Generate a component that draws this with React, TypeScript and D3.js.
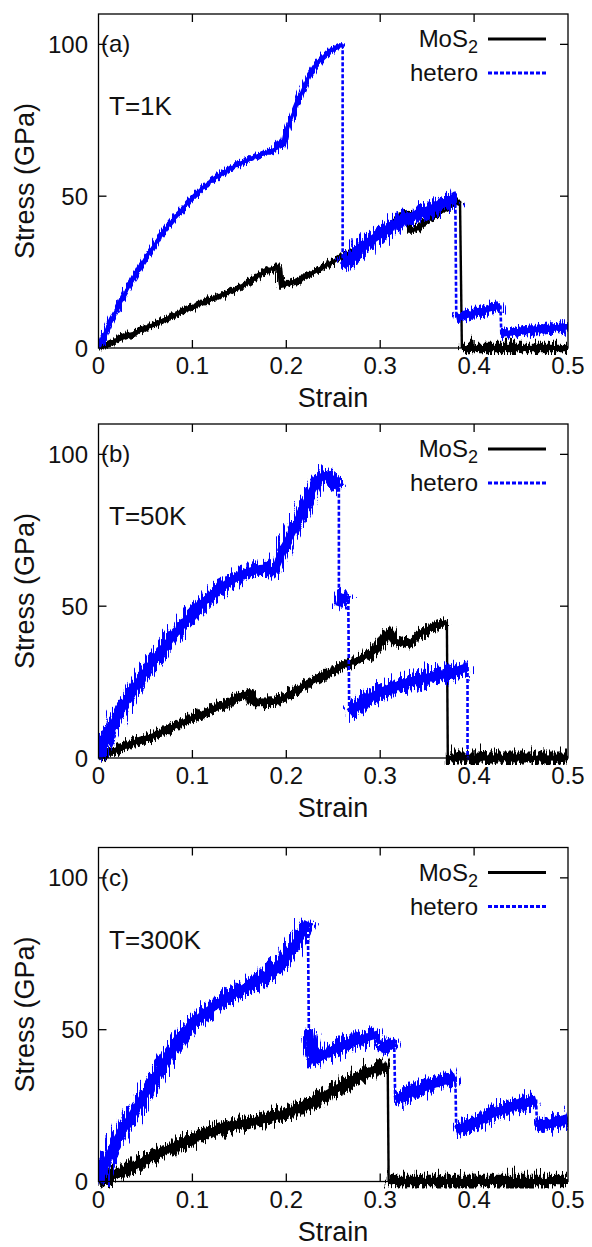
import React from "react";
import * as d3 from "d3";

const strainTicks = [0, 0.1, 0.2, 0.3, 0.4, 0.5];
const stressTicks = [0, 50, 100];
const panelTags = ["(a)", "(b)", "(c)"];
const tempLabels = ["T=1K", "T=50K", "T=300K"];
const xLabel = "Strain";
const yLabel = "Stress (GPa)";

// noise = half-width (GPa) of the fluctuation band
type Seg = { noise: number; pts: [number, number][] };

// ---- Panel (a) T=1K ----
const mos2A: Seg[] = [
  { noise: 1.3, pts: [[0, 0], [0.05, 6.5], [0.1, 13.5], [0.15, 20], [0.192, 26.5], [0.194, 20.5], [0.2, 21], [0.25, 28.5], [0.3, 37.5], [0.329, 44.5], [0.332, 38.5], [0.35, 42], [0.385, 48.5]] },
  { noise: 2.5, pts: [[0.387, 0], [0.5, 0]] },
];
const heteroA: Seg[] = [
  { noise: 1.2, pts: [[0, 0], [0.01, 7], [0.02, 13], [0.03, 19], [0.04, 24.5], [0.05, 29.5], [0.06, 34], [0.07, 38.5], [0.08, 42.5], [0.09, 46], [0.1, 49.5], [0.12, 55], [0.14, 59], [0.16, 62], [0.175, 64], [0.188, 65.5], [0.193, 67.5], [0.196, 66.5], [0.2, 71], [0.211, 80], [0.225, 90], [0.239, 95.8], [0.253, 99], [0.26, 100]] },
  { noise: 3.0, pts: [[0.26, 27], [0.27, 30], [0.28, 33], [0.3, 37.5], [0.32, 41.5], [0.34, 44], [0.36, 46.5], [0.38, 49.5]] },
  { noise: 2.0, pts: [[0.381, 10], [0.4, 11.5], [0.428, 14]] },
  { noise: 2.0, pts: [[0.429, 4.5], [0.45, 5.5], [0.5, 7]] },
];

// ---- Panel (b) T=50K ----
const mos2B: Seg[] = [
  { noise: 1.8, pts: [[0, 0], [0.036, 4.9], [0.056, 7.1], [0.096, 12.6], [0.137, 18], [0.161, 21.3], [0.163, 18.5], [0.185, 18.6], [0.217, 23.5], [0.258, 30], [0.298, 36.6], [0.312, 41.5], [0.316, 38.5], [0.33, 37.7], [0.338, 39.9], [0.371, 44.8]] },
  { noise: 3.0, pts: [[0.372, 0], [0.5, 0]] },
];
const heteroB: Seg[] = [
  { noise: 2.7, pts: [[0, 0], [0.015, 10.4], [0.036, 22], [0.056, 31], [0.076, 38.8], [0.096, 46], [0.116, 52.5], [0.137, 57.5], [0.157, 61], [0.177, 62.5], [0.185, 61.5], [0.197, 69], [0.209, 76], [0.217, 81], [0.229, 89], [0.241, 93], [0.25, 91.5], [0.256, 89]] },
  { noise: 2.5, pts: [[0.256, 50], [0.26, 53], [0.266, 52]] },
  { noise: 3.0, pts: [[0.267, 15], [0.28, 18], [0.298, 21.3], [0.32, 24], [0.338, 25.7], [0.359, 27], [0.38, 28.5], [0.393, 30]] },
  { noise: 0.3, pts: [[0.393, 0], [0.394, 0]] },
];

// ---- Panel (c) T=300K ----
const mos2C: Seg[] = [
  { noise: 2.7, pts: [[0, 0], [0.036, 4.8], [0.056, 8], [0.096, 13.5], [0.137, 18], [0.177, 20.5], [0.217, 24.6], [0.258, 31.3], [0.298, 37.3], [0.308, 38]] },
  { noise: 3.2, pts: [[0.309, 0], [0.5, 0]] },
];
const heteroC: Seg[] = [
  { noise: 2.9, pts: [[0, 0], [0.015, 11], [0.036, 22], [0.056, 32], [0.076, 42], [0.096, 50.5], [0.116, 56], [0.137, 60.5], [0.157, 64], [0.177, 67.5], [0.197, 73], [0.217, 82], [0.223, 85.5]] },
  { noise: 2.9, pts: [[0.224, 50], [0.23, 40], [0.237, 41.2], [0.258, 44.5], [0.278, 46.7], [0.298, 48.5]] },
  { noise: 2.9, pts: [[0.3, 43], [0.31, 45.5], [0.315, 44]] },
  { noise: 2.9, pts: [[0.316, 27], [0.338, 30], [0.359, 32.3], [0.38, 34.5]] },
  { noise: 2.9, pts: [[0.381, 17], [0.399, 19], [0.419, 22.3], [0.44, 24.5], [0.466, 27]] },
  { noise: 2.9, pts: [[0.467, 18], [0.485, 19.5], [0.5, 21]] },
];

const mos2Panels = [mos2A, mos2B, mos2C];
const heteroPanels = [heteroA, heteroB, heteroC];

const BLUE = "#0000ff";
const FONT = "'Liberation Sans', Arial, Helvetica, sans-serif";
const TXT = "#111";

const W = 592;
const H = 1247;
const LEFT = 98.5;
const RIGHT = 568;
const PH = 334;
const tops = [14, 424, 847.5];
const pxPerGPa = PH / 110;

const bandPx = (s: Seg) => 2 * s.noise * pxPerGPa;
const jagScale = (s: Seg) => Math.max(4, Math.round(bandPx(s) * 1.3));

const allScales = Array.from(
  new Set([...mos2Panels, ...heteroPanels].flat().map((s) => jagScale(s)))
);

function Panel({ idx }: { idx: number }) {
  const top = tops[idx];
  const bottom = top + PH;
  const x = d3.scaleLinear().domain([0, 0.5]).range([LEFT, RIGHT]);
  const y = d3.scaleLinear().domain([0, 110]).range([bottom, top]);
  const line = d3
    .line<[number, number]>()
    .x((d) => x(d[0]))
    .y((d) => y(d[1]))
    .curve(d3.curveMonotoneX);
  const straight = d3
    .line<[number, number]>()
    .x((d) => x(d[0]))
    .y((d) => y(d[1]));

  const drawSeries = (segs: Seg[], color: string, dashed: boolean, key: string) => {
    const els: React.ReactNode[] = [];
    segs.forEach((s, i) => {
      if (i > 0) {
        const prev = segs[i - 1].pts[segs[i - 1].pts.length - 1];
        const cur = s.pts[0];
        els.push(
          <path
            key={`${key}-c${i}`}
            d={straight([prev, cur]) || ""}
            stroke={color}
            strokeWidth={dashed ? 2.6 : 2.4}
            strokeDasharray={dashed ? "4 2" : undefined}
            fill="none"
          />
        );
      }
      const band = bandPx(s);
      const isFlat = s.pts.every((p) => p[1] === 0);
      const d = line(s.pts) || "";
      els.push(
        <path
          key={`${key}-j${i}`}
          d={d}
          stroke={color}
          strokeWidth={Math.max(2.5, band * (isFlat ? 0.7 : 0.8))}
          strokeLinejoin="round"
          fill="none"
          filter={`url(#jag${jagScale(s)})`}
        />
      );
      els.push(
        <path
          key={`${key}-s${i}`}
          d={d}
          stroke={color}
          strokeWidth={Math.max(2.8, band * (isFlat ? 0.25 : 0.45))}
          strokeLinejoin="round"
          fill="none"
        />
      );
    });
    return els;
  };

  const fs = 24;
  const clipId = `clip${idx}`;
  return (
    <g>
      <clipPath id={clipId}>
        <rect x={LEFT} y={top - 2} width={RIGHT - LEFT} height={PH + 9} />
      </clipPath>
      <g clipPath={`url(#${clipId})`}>
        {drawSeries(mos2Panels[idx], "#000", false, `m${idx}`)}
        {drawSeries(heteroPanels[idx], BLUE, true, `h${idx}`)}
      </g>
      <rect x={LEFT} y={top} width={RIGHT - LEFT} height={PH} fill="none" stroke="#000" strokeWidth={1.3} />
      {strainTicks.map((t) => (
        <g key={`xt${t}`}>
          {t > 0 && t < 0.5 && (
            <>
              <line x1={x(t)} x2={x(t)} y1={bottom} y2={bottom - 8} stroke="#000" strokeWidth={1.3} />
              <line x1={x(t)} x2={x(t)} y1={top} y2={top + 8} stroke="#000" strokeWidth={1.3} />
            </>
          )}
          <text x={x(t)} y={bottom + 26} textAnchor="middle" fontSize={fs} fontFamily={FONT} fill={TXT}>
            {String(t)}
          </text>
        </g>
      ))}
      {stressTicks.map((t) => (
        <g key={`yt${t}`}>
          {t > 0 && (
            <>
              <line x1={LEFT} x2={LEFT + 8} y1={y(t)} y2={y(t)} stroke="#000" strokeWidth={1.3} />
              <line x1={RIGHT} x2={RIGHT - 8} y1={y(t)} y2={y(t)} stroke="#000" strokeWidth={1.3} />
            </>
          )}
          <text x={88} y={y(t) + 8.5} textAnchor="end" fontSize={fs} fontFamily={FONT} fill={TXT}>
            {String(t)}
          </text>
        </g>
      ))}
      <text x={W / 2 + 37} y={bottom + 59} textAnchor="middle" fontSize={27} fontFamily={FONT} fill={TXT}>
        {xLabel}
      </text>
      <text
        transform={`translate(34, ${(top + bottom) / 2}) rotate(-90)`}
        textAnchor="middle"
        fontSize={27}
        fontFamily={FONT}
        fill={TXT}
      >
        {yLabel}
      </text>
      <text x={101} y={y(100) + 8} fontSize={fs} fontFamily={FONT} fill={TXT}>
        {panelTags[idx]}
      </text>
      <text x={109} y={top + 101} fontSize={26} fontFamily={FONT} fill={TXT}>
        {tempLabels[idx]}
      </text>
      {/* legend */}
      <text x={478} y={top + 33} textAnchor="end" fontSize={fs} fontFamily={FONT} fill={TXT}>
        MoS<tspan fontSize={18} dy={6}>2</tspan>
      </text>
      <line x1={488} x2={546} y1={top + 25} y2={top + 25} stroke="#000" strokeWidth={3.2} />
      <text x={478} y={top + 67} textAnchor="end" fontSize={fs} fontFamily={FONT} fill={TXT}>
        hetero
      </text>
      <line x1={488} x2={546} y1={top + 59} y2={top + 59} stroke={BLUE} strokeWidth={3} strokeDasharray="4 2" />
    </g>
  );
}

export default function App() {
  return (
    <svg
      width={W}
      height={H}
      viewBox={`0 0 ${W} ${H}`}
      style={{ position: "absolute", left: 0, top: 0, background: "#fff", display: "block" }}
    >
      <defs>
        {allScales.map((sc) => (
          <filter
            key={sc}
            id={`jag${sc}`}
            filterUnits="userSpaceOnUse"
            x={0}
            y={0}
            width={W}
            height={H}
          >
            <feTurbulence type="fractalNoise" baseFrequency="0.55 0.04" numOctaves={2} seed={7} result="t" />
            <feDisplacementMap in="SourceGraphic" in2="t" scale={sc} xChannelSelector="A" yChannelSelector="R" />
          </filter>
        ))}
      </defs>
      {[0, 1, 2].map((i) => (
        <Panel key={i} idx={i} />
      ))}
    </svg>
  );
}
